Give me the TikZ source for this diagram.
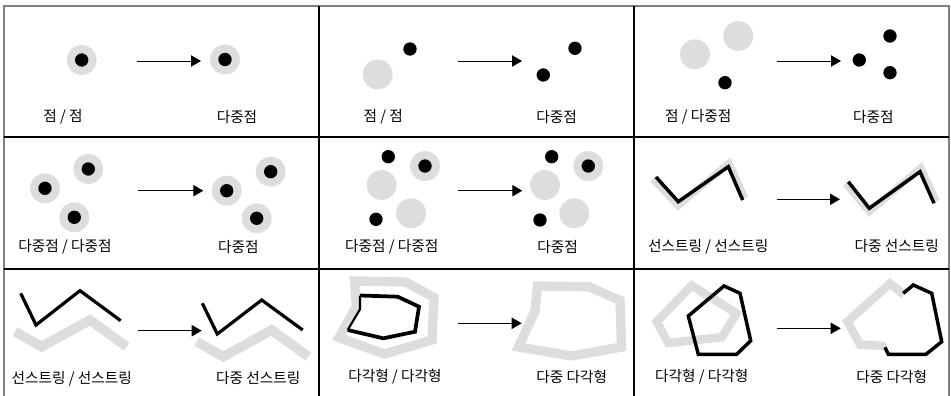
\documentclass[tikz,border=0pt]{standalone}
\usepackage{fontspec}
\newfontfamily\kr{Noto Sans CJK KR}
\usetikzlibrary{arrows.meta}
\definecolor{lgray}{HTML}{DDDDDD}
\definecolor{frame}{HTML}{808080}
\begin{document}
\begin{tikzpicture}[x=0.75pt,y=-0.75pt,
  gdisk/.style={fill=lgray},
  bdot/.style={fill=black},
  arr/.style={line width=0.75pt,-{Triangle[length=7.5pt,width=8.5pt]}},
  gline/.style={draw=lgray,line width=#1,line join=miter},
  bline/.style={draw=black,line width=#1,line join=miter},
  lbl/.style={font=\kr\fontsize{11}{13}\selectfont,text=black,inner sep=0pt},
  grid/.style={draw=black,line width=1.4pt},
  outer/.style={draw=frame,line width=1.4pt}]
\useasboundingbox (0,0) rectangle (951,396);
% frame and grid
\draw[outer] (4,402) -- (4,6) -- (949,6) -- (949,402);
\draw[grid] (4,137) -- (949,137);
\draw[grid] (4,269) -- (949,269);
\draw[grid] (319,6) -- (319,402);
\draw[grid] (634,6) -- (634,402);

% ---------- cell 1 ----------
\fill[gdisk] (81.7,60) circle[radius=11.2pt];
\fill[bdot] (81.7,60) circle[radius=5pt];
\fill[gdisk] (225,59.5) circle[radius=11.2pt];
\fill[bdot] (225,59.5) circle[radius=5pt];
\coordinate (a1s) at (137,61); \coordinate (a1e) at (201,61);
\draw[arr] (a1s) -- (a1e);
\node[lbl] (l1a) at (63,117) {점 / 점};
\node[lbl] (l1b) at (237,117) {다중점};

% ---------- cell 2 ----------
\fill[bdot] (410,49) circle[radius=5pt];
\fill[gdisk] (377.7,74.5) circle[radius=11.2pt];
\coordinate (a2s) at (458,61); \coordinate (a2e) at (522,61);
\draw[arr] (a2s) -- (a2e);
\fill[bdot] (575,48.3) circle[radius=5pt];
\fill[bdot] (543.3,75) circle[radius=5pt];
\node[lbl] (l2a) at (383.3,117) {점 / 점};
\node[lbl] (l2b) at (556.7,117) {다중점};

% ---------- cell 3 ----------
\fill[gdisk] (695,54.3) circle[radius=11.2pt];
\fill[gdisk] (738.3,36) circle[radius=11.2pt];
\fill[bdot] (725,82.7) circle[radius=5pt];
\coordinate (a3s) at (777,61); \coordinate (a3e) at (841,61);
\draw[arr] (a3s) -- (a3e);
\fill[bdot] (859.3,60) circle[radius=5pt];
\fill[bdot] (890,36) circle[radius=5pt];
\fill[bdot] (890,72.7) circle[radius=5pt];
\node[lbl] (l3a) at (698.3,117) {점 / 다중점};
\node[lbl] (l3b) at (873.3,117) {다중점};

% ---------- cell 4 ----------
\foreach \p in {(45,188.3),(88.3,169),(74.3,217.3),(226.7,190.7),(270.7,171.7),(256.7,218.3)}{
  \fill[gdisk] \p circle[radius=11.2pt];
  \fill[bdot] \p circle[radius=5pt];
}
\coordinate (a4s) at (138.3,190.7); \coordinate (a4e) at (203.3,190.7);
\draw[arr] (a4s) -- (a4e);
\node[lbl] (l4a) at (65,247) {다중점 / 다중점};
\node[lbl] (l4b) at (238.3,247) {다중점};

% ---------- cell 5 ----------
\fill[gdisk] (425,166) circle[radius=11.2pt];
\fill[bdot] (425,166) circle[radius=5pt];
\fill[gdisk] (381.7,185) circle[radius=11.2pt];
\fill[gdisk] (411,213.3) circle[radius=11.2pt];
\fill[bdot] (388.3,156.7) circle[radius=5pt];
\fill[bdot] (376,219.3) circle[radius=5pt];
\coordinate (a5s) at (458.3,190.7); \coordinate (a5e) at (522.3,190.7);
\draw[arr] (a5s) -- (a5e);
\fill[gdisk] (588.3,166) circle[radius=11.2pt];
\fill[bdot] (588.3,166) circle[radius=5pt];
\fill[gdisk] (545,185) circle[radius=11.2pt];
\fill[gdisk] (574.3,213.3) circle[radius=11.2pt];
\fill[bdot] (551.7,156.7) circle[radius=5pt];
\fill[bdot] (540,220) circle[radius=5pt];
\node[lbl] (l5a) at (391.7,247) {다중점 / 다중점};
\node[lbl] (l5b) at (557.7,247) {다중점};

% ---------- cell 6 ----------
\draw[gline=5.2pt] (653,179) -- (678,206) -- (729,163) -- (745,198);
\draw[bline=2.6pt] (656,177) -- (678.3,201.7) -- (728.3,166.7) -- (742.7,200);
\coordinate (a6s) at (776.7,199.3); \coordinate (a6e) at (840,199.3);
\draw[arr] (a6s) -- (a6e);
\draw[gline=5.2pt] (845.5,183.5) -- (869.3,212) -- (921,167.5) -- (936.5,201.5);
\draw[bline=2.6pt] (848.3,181.7) -- (869.3,208.3) -- (920,171.7) -- (934,203.3);
\node[lbl] (l6a) at (708.3,246.5) {선스트링 / 선스트링};
\node[lbl] (l6b) at (896.7,246.5) {다중 선스트링};

% ---------- cell 7 ----------
\draw[gline=7.3pt] (15,331.7) -- (41.7,346.7) -- (90,320) -- (126.7,346.7);
\draw[bline=2.4pt] (20.7,293.3) -- (36,325) -- (80,290.7) -- (120.7,320.7);
\coordinate (a7s) at (138.3,330.7); \coordinate (a7e) at (201.7,330.7);
\draw[arr] (a7s) -- (a7e);
\draw[gline=7.3pt] (196.7,341.7) -- (223.3,356.7) -- (271.7,330) -- (308.3,356.7);
\draw[bline=2.4pt] (202.3,303.3) -- (217.3,334) -- (261.7,300) -- (302.7,330);
\node[lbl] (l7a) at (71.7,378.5) {선스트링 / 선스트링};
\node[lbl] (l7b) at (258.3,378.5) {다중 선스트링};

% ---------- cell 8 ----------
\draw[gline=7pt] (354.5,281) -- (405.5,282) -- (434,297.5) -- (432,340) -- (384.3,354) -- (339,337.5) -- (356.5,306.5) -- cycle;
\draw[bline=2.8pt] (360,295.5) -- (397.7,296.7) -- (419,306.7) -- (415,331.7) -- (383.3,338.3) -- (347.7,330);
\draw[bline=1.6pt] (347.7,330) -- (360,309.3) -- (360,295.5);
\coordinate (a8s) at (458.3,323.3); \coordinate (a8e) at (521.7,323.3);
\draw[arr] (a8s) -- (a8e);
\draw[gline=7pt] (537.5,286) -- (589,286.7) -- (620,300.5) -- (621.5,347) -- (571.7,356) -- (518.5,347) -- (535,311) -- cycle;
\node[lbl] (l8a) at (395,377) {다각형 / 다각형};
\node[lbl] (l8b) at (571.7,377) {다중 다각형};

% ---------- cell 9 ----------
\draw[gline=6.4pt] (691.7,285.5) -- (736.5,313.3) -- (721.7,337.3) -- (668.3,343) -- (656.7,321.7) -- cycle;
\draw[bline=2.6pt] (724,286) -- (740,293.3) -- (750.7,340.7) -- (736.7,354.3) -- (698.3,354.3) -- (688.3,316) -- cycle;
\coordinate (a9s) at (776.7,328.3); \coordinate (a9e) at (840.7,328.3);
\draw[arr] (a9s) -- (a9e);
\draw[gline=6.4pt] (904,294.5) -- (890,283.5) -- (847.5,321.7) -- (860,344.5) -- (886,346);
\draw[bline=2.6pt] (903.3,293.3) -- (913.3,285) -- (931.7,293.3) -- (941.7,341.7) -- (926,354.3) -- (888.3,354.3) -- (885,347.3);
\node[lbl] (l9a) at (701.7,377) {다각형 / 다각형};
\node[lbl] (l9b) at (891.7,377) {다중 다각형};
\end{tikzpicture}
\end{document}
